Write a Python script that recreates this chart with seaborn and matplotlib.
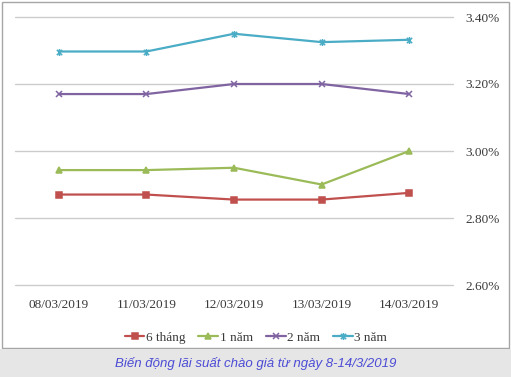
import pandas as pd
import matplotlib.pyplot as plt
import seaborn as sns
from matplotlib.path import Path
from matplotlib.patches import Rectangle

# data
dates = ["08/03/2019", "11/03/2019", "12/03/2019", "13/03/2019", "14/03/2019"]
terms = ["6 tháng", "1 năm", "2 năm", "3 năm"]
rate_6m = [2.87, 2.87, 2.855, 2.855, 2.875]
rate_1y = [2.943, 2.943, 2.95, 2.90, 3.00]
rate_2y = [3.17, 3.17, 3.20, 3.20, 3.17]
rate_3y = [3.297, 3.297, 3.35, 3.325, 3.332]
colors = ["#C0504D", "#9BBB59", "#8064A2", "#4BACC6"]

rows = []
for term, vals in zip(terms, [rate_6m, rate_1y, rate_2y, rate_3y]):
    for d, v in zip(dates, vals):
        rows.append({"date": d, "rate": v, "term": term})
df = pd.DataFrame(rows)

# excel-style "star" marker: an x with a vertical bar
star = Path([(-1, -1), (1, 1), (-1, 1), (1, -1), (0, -1.3), (0, 1.3)],
            [Path.MOVETO, Path.LINETO, Path.MOVETO, Path.LINETO, Path.MOVETO, Path.LINETO])
markers = ["s", "^", "x", star]
msizes = [6.3, 7, 7, 7]

sns.set_style("white")
plt.rcParams['font.family'] = ['Liberation Serif', 'DejaVu Serif']

fig = plt.figure(figsize=(5.11, 3.77), dpi=100)
# outer frame and caption band
fig.patches.append(Rectangle((2 / 511, 29 / 377), 507 / 511, 346 / 377, transform=fig.transFigure,
                             fill=False, edgecolor="#a6a6a6", linewidth=1))
fig.patches.append(Rectangle((0, 0), 1, 28 / 377, transform=fig.transFigure,
                             facecolor="#e6e6e6", edgecolor="none"))

ax = fig.add_axes([15 / 511, 92 / 377, 438 / 511, 268 / 377])
for term, col, mk, ms in zip(terms, colors, markers, msizes):
    sub = df[df["term"] == term]
    sns.lineplot(data=sub, x="date", y="rate", color=col, marker=mk, linewidth=1.6,
                 markersize=ms, markeredgewidth=1.1, markeredgecolor=col, sort=False,
                 label=term, ax=ax, clip_on=False)

ax.set_ylim(2.6, 3.4)
ax.set_xlim(-0.5, 4.5)
ax.set_yticks([2.6, 2.8, 3.0, 3.2, 3.4])
ax.set_yticklabels(["2.60%", "2.80%", "3.00%", "3.20%", "3.40%"])
ax.yaxis.tick_right()
ax.grid(axis="y", color="#cccccc", linewidth=1)
ax.grid(axis="x", visible=False)
for gl in ax.get_ygridlines():
    gl.set_clip_on(False)
for s in ax.spines.values():
    s.set_visible(False)
ax.tick_params(axis="y", length=0, pad=9, labelsize=9.5, labelcolor="#3a3a3a")
ax.tick_params(axis="x", length=0, pad=10, labelsize=9.5, labelcolor="#3a3a3a")
ax.set_xlabel("")
ax.set_ylabel("")

handles, labels = ax.get_legend_handles_labels()
for h in handles:
    h.set_markersize(5)
ax.legend(handles, labels, loc="upper center", bbox_to_anchor=(0.55, -0.13), ncol=4, frameon=False,
          fontsize=9.5, handlelength=1.5, handletextpad=0.1, columnspacing=1.0, labelcolor="#3a3a3a")

fig.text(0.5, 13 / 377, "Biến động lãi suất chào giá từ ngày 8-14/3/2019", ha="center", va="center",
         fontsize=9.5, style="italic", color="#4b4bd6", family=["Liberation Sans", "DejaVu Sans"])

plt.savefig("out.png", dpi=100)
